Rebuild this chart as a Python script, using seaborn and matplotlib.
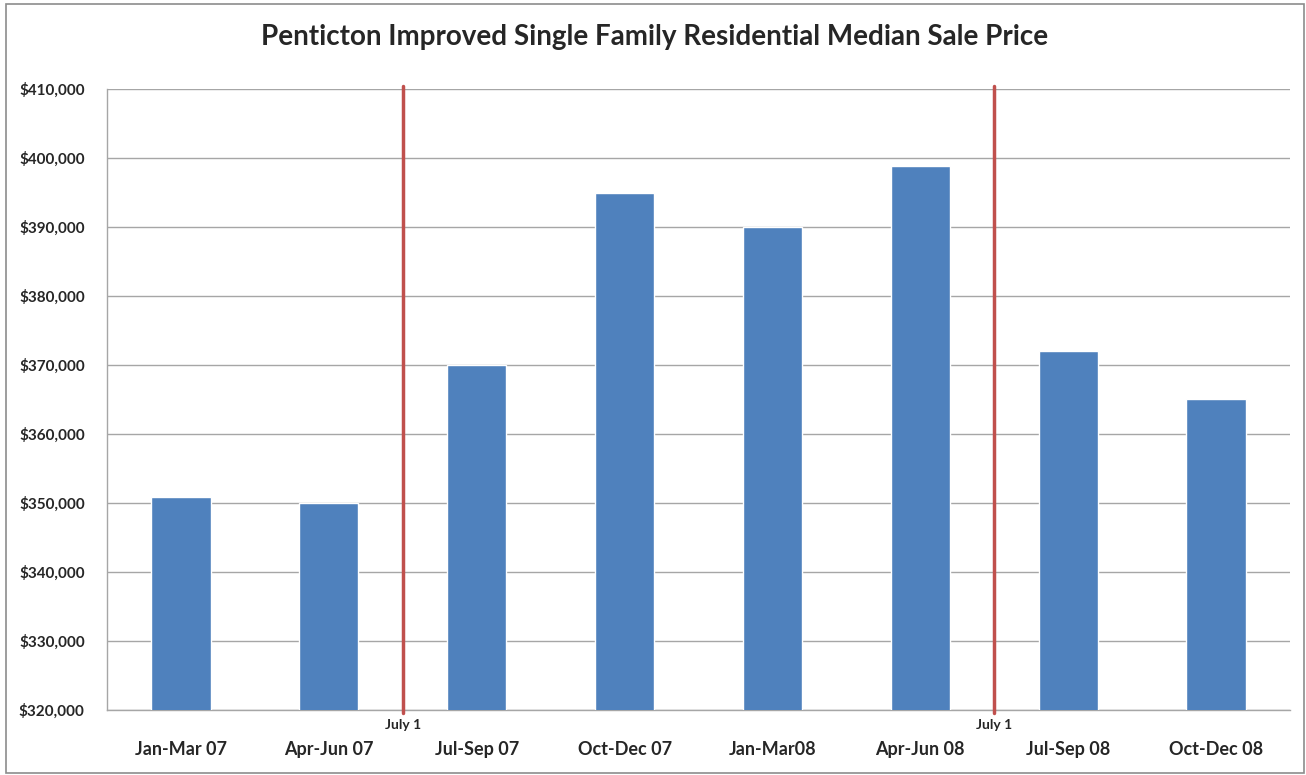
import matplotlib
matplotlib.use("Agg")
import matplotlib.pyplot as plt
import matplotlib.transforms as mtransforms
from matplotlib.ticker import FuncFormatter, FixedLocator
import pandas as pd
import seaborn as sns

# Quarterly median sale prices
quarters = ["Jan-Mar 07", "Apr-Jun 07", "Jul-Sep 07", "Oct-Dec 07",
            "Jan-Mar08", "Apr-Jun 08", "Jul-Sep 08", "Oct-Dec 08"]
median_price = [350800, 350000, 370000, 394900, 390000, 398900, 372000, 365000]

# Quarters that start on July 1 (a red marker goes just before them)
july_quarters = ["Jul-Sep 07", "Jul-Sep 08"]
marker_label = "July 1"

BAR_COLOR = "#4F81BD"
LINE_COLOR = "#C0504D"
GRID_COLOR = "#A6A6A6"

df = pd.DataFrame({"quarter": quarters, "price": median_price})

sns.set_style("white")
plt.rcParams["font.family"] = ["Lato", "DejaVu Sans"]

fig = plt.figure(figsize=(13.06, 7.75), dpi=100)
ax = fig.add_axes([107 / 1306, 1 - 710 / 775, (1290 - 107) / 1306, (710 - 89) / 775])

sns.barplot(data=df, x="quarter", y="price", color=BAR_COLOR, width=0.4,
            saturation=1, ax=ax, zorder=3)

ax.set_ylim(320000, 410000)
ax.set_xlim(-0.5, len(quarters) - 0.5)
ax.set_yticks(range(320000, 410001, 10000))
ax.yaxis.set_major_formatter(FuncFormatter(lambda v, p: f"${v:,.0f}"))
ax.yaxis.grid(True, color=GRID_COLOR, linewidth=1)
ax.set_axisbelow(True)

# ticks at category boundaries, labels centred on categories
ax.xaxis.set_major_locator(FixedLocator([i - 0.5 for i in range(len(quarters) + 1)]))
ax.xaxis.set_major_formatter(FuncFormatter(lambda v, p: ""))
ax.xaxis.set_minor_locator(FixedLocator(list(range(len(quarters)))))
ax.set_xticklabels(quarters, minor=True)
ax.tick_params(axis="x", which="major", length=6, width=1, color=GRID_COLOR, direction="out")
ax.tick_params(axis="x", which="minor", length=0, pad=22, labelsize=13)
for lbl in ax.get_xticklabels(minor=True):
    lbl.set_fontweight("bold")
ax.tick_params(axis="y", length=6, width=1, color=GRID_COLOR, direction="out", labelsize=11, pad=10)
for lbl in ax.get_yticklabels():
    lbl.set_fontweight("bold")

for side in ["top", "right"]:
    ax.spines[side].set_visible(False)
for side in ["left", "bottom"]:
    ax.spines[side].set_color(GRID_COLOR)
    ax.spines[side].set_linewidth(1)

ax.set_xlabel("")
ax.set_ylabel("")

# July 1 markers
trans = mtransforms.blended_transform_factory(ax.transData, ax.transAxes)
for q in july_quarters:
    xpos = quarters.index(q) - 0.5
    ax.plot([xpos, xpos], [-0.005, 1.005], transform=trans, color=LINE_COLOR,
            linewidth=2.5, zorder=4, clip_on=False)
    ax.text(xpos, -0.014, marker_label, transform=trans, ha="center", va="top",
            fontsize=10, fontweight="bold")

fig.suptitle("Penticton Improved Single Family Residential Median Sale Price",
             x=655 / 1306, y=1 - 37 / 775, va="center", fontsize=20, fontweight="bold")

# outer frame
frame = plt.Rectangle((6 / 1306, 0.002), 1 - 8 / 1306, 1 - 6 / 775, transform=fig.transFigure,
                      fill=False, edgecolor="#8C8C8C", linewidth=1.2)
fig.patches.append(frame)

fig.savefig("out.png", dpi=100)
